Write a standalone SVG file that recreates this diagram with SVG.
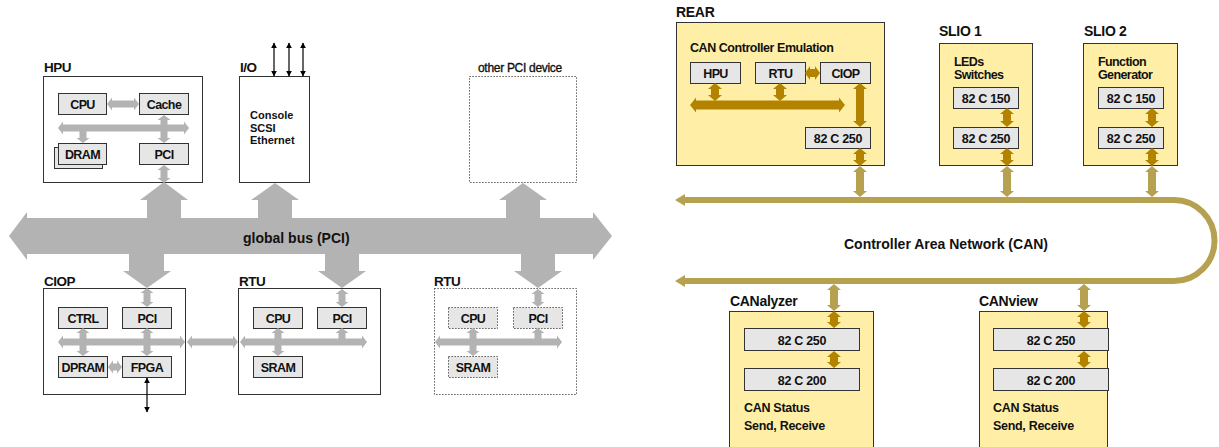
<svg xmlns="http://www.w3.org/2000/svg" width="1219" height="447" viewBox="0 0 1219 447">
<style>
text{font-family:"Liberation Sans",Arial,sans-serif;font-weight:bold;fill:#111}
.t{font-size:13.5px;letter-spacing:-0.5px}
.tr{font-size:14px;letter-spacing:-0.3px}
.l{font-size:12.5px;letter-spacing:-0.6px;text-anchor:middle}
.c{font-size:12.5px;letter-spacing:-0.3px;text-anchor:middle}
.s{font-size:12.5px;letter-spacing:-0.6px}
.io{font-size:11px;letter-spacing:0}
.box{fill:#fff;stroke:#333;stroke-width:1}
.dot{fill:#fff;stroke:#333;stroke-width:1;stroke-dasharray:1.2 1.8}
.in{fill:#e6e6e6;stroke:#333;stroke-width:1}
.ind{fill:#e6e6e6;stroke:#333;stroke-width:1;stroke-dasharray:1.2 1.8}
.y{fill:#ffefa6;stroke:#333;stroke-width:1}
.g{fill:#b3b3b3}
.d{fill:#b38300}
.lg{fill:#b5a14f}
.blk{stroke:#000;stroke-width:1.2;fill:none;marker-start:url(#ah);marker-end:url(#ah)}
</style>
<defs>
<marker id="ah" viewBox="0 0 10 10" refX="9" refY="5" markerWidth="6" markerHeight="6" markerUnits="userSpaceOnUse" orient="auto-start-reverse">
<path d="M0,0 L10,5 L0,10 z" fill="#000"/>
</marker>
</defs>

<g id="hpu">
<text class="t" x="44" y="72">HPU</text>
<rect class="box" x="43.5" y="76.5" width="159" height="106"/>
<rect class="in" x="58.5" y="93.5" width="48" height="21"/>
<text class="l" x="82.5" y="108.5">CPU</text>
<rect class="in" x="139.5" y="93.5" width="49" height="21"/>
<text class="l" x="164" y="108.5">Cache</text>
<rect class="in" x="54.5" y="147.5" width="48" height="21"/>
<rect class="in" x="58.5" y="143.5" width="48" height="21"/>
<text class="l" x="82.5" y="158.5">DRAM</text>
<rect class="in" x="139.5" y="143.5" width="49" height="21"/>
<text class="l" x="164" y="158.5">PCI</text>
</g>

<g id="io">
<text class="t" x="240" y="72">I/O</text>
<rect class="box" x="239.5" y="76.5" width="70" height="106"/>
<text class="io" x="250" y="119">Console</text>
<text class="io" x="250" y="131.5">SCSI</text>
<text class="io" x="250" y="144">Ethernet</text>
</g>

<g id="other-pci">
<text x="478" y="72" style="font-size:12px;letter-spacing:-0.3px;font-weight:normal;stroke:#111;stroke-width:0.35">other PCI device</text>
<rect class="dot" x="469.5" y="76.5" width="107" height="106"/>
</g>

<g id="ciop">
<text class="t" x="44" y="286">CIOP</text>
<rect class="box" x="43.5" y="288.5" width="142" height="106"/>
<rect class="in" x="58.5" y="307.5" width="49" height="21"/>
<text class="l" x="83" y="322.5">CTRL</text>
<rect class="in" x="122.5" y="307.5" width="49" height="21"/>
<text class="l" x="147" y="322.5">PCI</text>
<rect class="in" x="58.5" y="356.5" width="49" height="21"/>
<text class="l" x="83" y="371.5">DPRAM</text>
<rect class="in" x="122.5" y="356.5" width="49" height="21"/>
<text class="l" x="147" y="371.5">FPGA</text>
</g>

<g id="rtu1">
<text class="t" x="239" y="286">RTU</text>
<rect class="box" x="238.5" y="288.5" width="142" height="106"/>
<rect class="in" x="253.5" y="307.5" width="49" height="21"/>
<text class="l" x="278" y="322.5">CPU</text>
<rect class="in" x="317.5" y="307.5" width="49" height="21"/>
<text class="l" x="342" y="322.5">PCI</text>
<rect class="in" x="253.5" y="356.5" width="49" height="21"/>
<text class="l" x="278" y="371.5">SRAM</text>
</g>

<g id="rtu2">
<text class="t" x="434" y="286">RTU</text>
<rect class="dot" x="434.5" y="288.5" width="142" height="106"/>
<rect class="ind" x="448.5" y="307.5" width="49" height="21"/>
<text class="l" x="473" y="322.5">CPU</text>
<rect class="ind" x="513.5" y="307.5" width="49" height="21"/>
<text class="l" x="538" y="322.5">PCI</text>
<rect class="ind" x="448.5" y="356.5" width="49" height="21"/>
<text class="l" x="473" y="371.5">SRAM</text>
</g>

<g id="rear">
<text class="tr" x="676" y="17">REAR</text>
<rect class="y" x="676.5" y="22.5" width="208" height="143"/>
<text class="c" x="690" y="52" style="text-anchor:start;letter-spacing:-0.45px">CAN Controller Emulation</text>
<rect class="in" x="690.5" y="62.5" width="50" height="21"/>
<text class="l" x="715.5" y="77.5">HPU</text>
<rect class="in" x="755.5" y="62.5" width="50" height="21"/>
<text class="l" x="780.5" y="77.5">RTU</text>
<rect class="in" x="820.5" y="62.5" width="50" height="21"/>
<text class="l" x="845.5" y="77.5">CIOP</text>
<rect class="in" x="805.5" y="127.5" width="65" height="21"/>
<text class="c" x="838" y="142.5">82 C 250</text>
</g>

<g id="slio1">
<text class="tr" x="939" y="36">SLIO 1</text>
<rect class="y" x="939.5" y="43.5" width="93" height="122"/>
<text class="s" x="954" y="66">LEDs</text>
<text class="s" x="954" y="79">Switches</text>
<rect class="in" x="953.5" y="87.5" width="65" height="21"/>
<text class="c" x="986" y="102.5">82 C 150</text>
<rect class="in" x="953.5" y="127.5" width="65" height="21"/>
<text class="c" x="986" y="142.5">82 C 250</text>
</g>

<g id="slio2">
<text class="tr" x="1084" y="36">SLIO 2</text>
<rect class="y" x="1083.5" y="43.5" width="94" height="122"/>
<text class="s" x="1098" y="66">Function</text>
<text class="s" x="1098" y="79">Generator</text>
<rect class="in" x="1098.5" y="87.5" width="65" height="21"/>
<text class="c" x="1131" y="102.5">82 C 150</text>
<rect class="in" x="1098.5" y="127.5" width="65" height="21"/>
<text class="c" x="1131" y="142.5">82 C 250</text>
</g>

<g id="canalyzer">
<text class="tr" x="730" y="306">CANalyzer</text>
<rect class="y" x="729.5" y="311.5" width="144" height="145"/>
<rect class="in" x="744.5" y="328.5" width="115" height="22"/>
<text class="c" x="802" y="344.5">82 C 250</text>
<rect class="in" x="744.5" y="368.5" width="115" height="22"/>
<text class="c" x="802" y="384.5">82 C 200</text>
<text class="c" x="744" y="412" style="text-anchor:start">CAN Status</text>
<text class="c" x="744" y="430" style="text-anchor:start">Send, Receive</text>
</g>

<g id="canview">
<text class="tr" x="979" y="306">CANview</text>
<rect class="y" x="979.5" y="311.5" width="128" height="145"/>
<rect class="in" x="993.5" y="328.5" width="115" height="22"/>
<text class="c" x="1051" y="344.5">82 C 250</text>
<rect class="in" x="993.5" y="368.5" width="115" height="22"/>
<text class="c" x="1051" y="384.5">82 C 200</text>
<text class="c" x="993" y="412" style="text-anchor:start">CAN Status</text>
<text class="c" x="993" y="430" style="text-anchor:start">Send, Receive</text>
</g>

<g id="connectors">
<!-- global PCI bus -->
<polygon class="g" points="9,236 27,212 27,218 593,218 593,212 612,236 593,260 593,254 27,254 27,260"/>
<text x="243" y="243" style="font-size:14px">global bus (PCI)</text>
<polygon class="g" points="164,182 188,200 181,200 181,219 147,219 147,200 140,200"/>
<polygon class="g" points="275,183 299,200 292,200 292,219 258,219 258,200 251,200"/>
<polygon class="g" points="523,183 547,200 540,200 540,219 506,219 506,200 499,200"/>
<polygon class="g" points="129,253 164,253 164,271 171,271 147,288 123,271 129,271"/>
<polygon class="g" points="325,253 359,253 359,271 366,271 342,288 318,271 325,271"/>
<polygon class="g" points="521,253 555,253 555,271 562,271 538,288 514,271 521,271"/>
<!-- HPU internal -->
<polygon class="g" points="107,104 112,97.5 112,100.5 134,100.5 134,97.5 139,104 134,110.5 134,107.5 112,107.5 112,110.5"/>
<polygon class="g" points="58,128 63,121.5 63,124.5 184,124.5 184,121.5 189,128 184,134.5 184,131.5 63,131.5 63,134.5"/>
<polygon class="g" points="86.5,131 86.5,138 89.5,138 83,143 76.5,138 79.5,138 79.5,131"/>
<polygon class="g" points="164,115 170.5,120 167.5,120 167.5,138 170.5,138 164,143 157.5,138 160.5,138 160.5,120 157.5,120"/>
<polygon class="g" points="164,165 170.5,170 167.5,170 167.5,178 170.5,178 164,183 157.5,178 160.5,178 160.5,170 157.5,170"/>
<!-- I/O external -->
<line class="blk" x1="274" y1="43" x2="274" y2="76"/>
<line class="blk" x1="289" y1="43" x2="289" y2="76"/>
<line class="blk" x1="303" y1="43" x2="303" y2="76"/>
<!-- CIOP internal -->
<polygon class="g" points="147,288 153.5,293 150.5,293 150.5,302 153.5,302 147,307 140.5,302 143.5,302 143.5,293 140.5,293"/>
<polygon class="g" points="58,342 63,335.5 63,338.5 180,338.5 180,335.5 185,342 180,348.5 180,345.5 63,345.5 63,348.5"/>
<polygon class="g" points="187,342 192,335.5 192,338.5 233,338.5 233,335.5 238,342 233,348.5 233,345.5 192,345.5 192,348.5"/>
<polygon class="g" points="83,328 89.5,333 86.5,333 86.5,351 89.5,351 83,356 76.5,351 79.5,351 79.5,333 76.5,333"/>
<polygon class="g" points="147,328 153.5,333 150.5,333 150.5,351 153.5,351 147,356 140.5,351 143.5,351 143.5,333 140.5,333"/>
<polygon class="g" points="108,367 113,360.5 113,363.5 117,363.5 117,360.5 122,367 117,373.5 117,370.5 113,370.5 113,373.5"/>
<line class="blk" x1="147" y1="378" x2="147" y2="412"/>
<!-- RTU internal -->
<polygon class="g" points="240,342 245,335.5 245,338.5 362,338.5 362,335.5 367,342 362,348.5 362,345.5 245,345.5 245,348.5"/>
<polygon class="g" points="342,289 348.5,294 345.5,294 345.5,302 348.5,302 342,307 335.5,302 338.5,302 338.5,294 335.5,294"/>
<polygon class="g" points="278,328 284.5,333 281.5,333 281.5,351 284.5,351 278,356 271.5,351 274.5,351 274.5,333 271.5,333"/>
<polygon class="g" points="342,328 348.5,333 345.5,333 345.5,342 338.5,342 338.5,333 335.5,333"/>
<!-- RTU 2 internal -->
<polygon class="g" points="435,342 440,335.5 440,338.5 557,338.5 557,335.5 562,342 557,348.5 557,345.5 440,345.5 440,348.5"/>
<polygon class="g" points="538,289 544.5,294 541.5,294 541.5,302 544.5,302 538,307 531.5,302 534.5,302 534.5,294 531.5,294"/>
<polygon class="g" points="473,328 479.5,333 476.5,333 476.5,351 479.5,351 473,356 466.5,351 469.5,351 469.5,333 466.5,333"/>
<polygon class="g" points="538,328 544.5,333 541.5,333 541.5,342 534.5,342 534.5,333 531.5,333"/>

<!-- CAN bus -->
<path d="M683,200 H1174 A40.5,40.5 0 0 1 1174,281 H683" fill="none" stroke="#b5a14f" stroke-width="6"/>
<polygon class="lg" points="675,200 685,194 685,206"/>
<polygon class="lg" points="675,281 685,275 685,287"/>
<text x="946" y="249" style="font-size:14px;text-anchor:middle">Controller Area Network (CAN)</text>
<!-- REAR -->
<polygon class="d" points="715,83 722,89 719,89 719,95 722,95 715,101 708,95 711,95 711,89 708,89"/>
<polygon class="d" points="780,83 787,89 784,89 784,95 787,95 780,101 773,95 776,95 776,89 773,89"/>
<polygon class="d" points="690,105 696,97.5 696,100.5 839,100.5 839,97.5 845,105 839,112.5 839,109.5 696,109.5 696,112.5"/>
<polygon class="d" points="805,73 810,66 810,69 815,69 815,66 820,73 815,80 815,77 810,77 810,80"/>
<polygon class="d" points="860,83 867,89 864,89 864,121 867,121 860,127 853,121 856,121 856,89 853,89"/>
<polygon class="d" points="860,148 867,154 864,154 864,160 867,160 860,166 853,160 856,160 856,154 853,154"/>
<polygon class="lg" points="860,166 867,172 864,172 864,191 867,191 860,197 853,191 856,191 856,172 853,172"/>
<!-- SLIO 1 -->
<polygon class="d" points="1007,108 1014,114 1011,114 1011,121 1014,121 1007,127 1000,121 1003,121 1003,114 1000,114"/>
<polygon class="d" points="1007,148 1014,154 1011,154 1011,160 1014,160 1007,166 1000,160 1003,160 1003,154 1000,154"/>
<polygon class="lg" points="1007,166 1014,172 1011,172 1011,191 1014,191 1007,197 1000,191 1003,191 1003,172 1000,172"/>
<!-- SLIO 2 -->
<polygon class="d" points="1152,108 1159,114 1156,114 1156,121 1159,121 1152,127 1145,121 1148,121 1148,114 1145,114"/>
<polygon class="d" points="1152,148 1159,154 1156,154 1156,160 1159,160 1152,166 1145,160 1148,160 1148,154 1145,154"/>
<polygon class="lg" points="1152,166 1159,172 1156,172 1156,191 1159,191 1152,197 1145,191 1148,191 1148,172 1145,172"/>
<!-- CANalyzer -->
<polygon class="lg" points="834,284 841,290 838,290 838,305 841,305 834,311 827,305 830,305 830,290 827,290"/>
<polygon class="d" points="834,311 841,317 838,317 838,322 841,322 834,328 827,322 830,322 830,317 827,317"/>
<polygon class="d" points="834,351 841,357 838,357 838,362 841,362 834,368 827,362 830,362 830,357 827,357"/>
<!-- CANview -->
<polygon class="lg" points="1084,284 1091,290 1088,290 1088,305 1091,305 1084,311 1077,305 1080,305 1080,290 1077,290"/>
<polygon class="d" points="1084,311 1091,317 1088,317 1088,322 1091,322 1084,328 1077,322 1080,322 1080,317 1077,317"/>
<polygon class="d" points="1084,351 1091,357 1088,357 1088,362 1091,362 1084,368 1077,362 1080,362 1080,357 1077,357"/>
</g>
</svg>
